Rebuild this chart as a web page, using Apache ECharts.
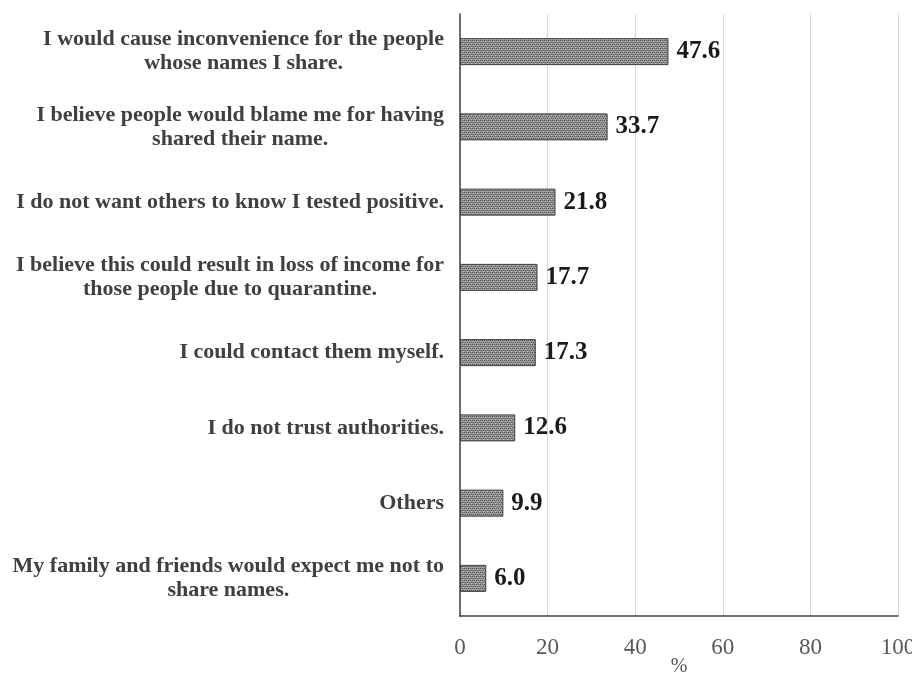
<!DOCTYPE html>
<html>
<head>
<meta charset="utf-8">
<script src="https://cdn.jsdelivr.net/npm/echarts@6/dist/echarts.min.js"></script>
<style>html,body{margin:0;padding:0;background:#fff}#c{width:912px;height:674px}</style>
</head>
<body>
<div id="c"></div>
<script>
var categories = [
  "I would cause inconvenience for the people\nwhose names I share.",
  "I believe people would blame me for having\nshared their name.",
  "I do not want others to know I tested positive.",
  "I believe this could result in loss of income for\nthose people due to quarantine.",
  "I could contact them myself.",
  "I do not trust authorities.",
  "Others",
  "My family and friends would expect me not to\nshare names."
];
var values = [47.6, 33.7, 21.8, 17.7, 17.3, 12.6, 9.9, 6.0];
var xTicks = [0, 20, 40, 60, 80, 100];

var pc = document.createElement('canvas');
pc.width = 4; pc.height = 4;
var g = pc.getContext('2d');
g.fillStyle = '#959595'; g.fillRect(0, 0, 4, 4);
g.fillStyle = '#555555';
g.fillRect(0, 0, 1, 1); g.fillRect(2, 0, 1, 1); g.fillRect(1, 2, 1, 1); g.fillRect(3, 2, 1, 1);
g.fillStyle = '#c4c4c4';
g.fillRect(1, 1, 1, 1); g.fillRect(3, 3, 1, 1);

var chart = echarts.init(document.getElementById('c'));
chart.setOption({
  animation: false,
  grid: {left: 460, right: 14, top: 14, bottom: 58, containLabel: false, outerBoundsMode: 'none'},
  xAxis: {
    type: 'value', min: xTicks[0], max: xTicks[xTicks.length - 1], interval: 20,
    name: '%', nameLocation: 'middle', nameGap: 41, nameMoveOverlap: false,
    nameTextStyle: {fontFamily: 'Liberation Serif', fontSize: 20, color: '#595959'},
    axisLine: {show: true, lineStyle: {color: '#404040', width: 1.5}},
    axisTick: {show: false},
    splitLine: {show: true, lineStyle: {color: '#d9d9d9', width: 1}},
    axisLabel: {fontFamily: 'Liberation Serif', fontSize: 23, color: '#595959', margin: 20}
  },
  yAxis: {
    type: 'category', inverse: true, data: categories,
    axisLine: {show: true, lineStyle: {color: '#404040', width: 1.5}},
    axisTick: {show: false},
    axisLabel: {
      margin: 16, align: 'right',
      formatter: function (v) {
        return v.split('\n').map(function (l) { return '{a|' + l + '}'; }).join('\n');
      },
      rich: {a: {align: 'center', fontFamily: 'Liberation Serif', fontWeight: 'bold', fontSize: 22, lineHeight: 24, color: '#404040'}}
    }
  },
  series: [{
    type: 'bar', data: values, barWidth: 27,
    itemStyle: {color: {image: pc, repeat: 'repeat'}, borderColor: '#404040', borderWidth: 1},
    label: {show: true, position: 'right', distance: 8,
      formatter: function (p) { return p.value.toFixed(1); },
      fontFamily: 'Liberation Serif', fontWeight: 'bold', fontSize: 25, color: '#1a1a1a'}
  }]
});
</script>
</body>
</html>
